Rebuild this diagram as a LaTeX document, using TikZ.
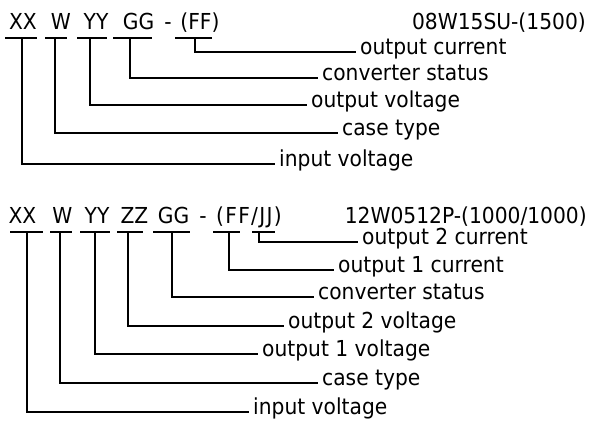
\documentclass[tikz,border=0pt]{standalone}
\usepackage{fontspec}
\setmainfont{DejaVu Sans}[FakeStretch=0.92]
\newfontfamily\widecode{DejaVu Sans}[FakeStretch=0.92,LetterSpace=6]
\begin{document}
\begin{tikzpicture}[x=1pt,y=-1pt,
  rule/.style={line width=1.8pt,black},
  code/.style={anchor=base,inner sep=0pt,font=\fontsize{22}{26}\selectfont},
  lab/.style={anchor=mid west,inner xsep=4pt,inner ysep=0pt,font=\fontsize{22}{26}\selectfont},
  title/.style={anchor=base east,inner sep=0pt,font=\fontsize{22}{26}\selectfont}]
\useasboundingbox[fill=white] (0,0) rectangle (590,423);

% ---------- top ----------
\node[code] (aXX) at (23,30) {XX};
\node[code] (aW) at (61,30) {W};
\node[code] (aYY) at (96,30) {YY};
\node[code] (aGG) at (138.5,30) {GG};
\node[code] (aDash) at (168,30) {-};
\node[code] (aFF) at (200,30) {(FF)};
\node[title] (aEx) at (586,30) {08W15SU-(1500)};

\draw[rule] (5,38) -- (37,38);
\draw[rule] (45,38) -- (67,38);
\draw[rule] (77,38) -- (107,38);
\draw[rule] (113,38) -- (152,38);
\draw[rule] (175,38) -- (212,38);

\coordinate (uaXX) at (22,38);
\coordinate (uaW) at (55,38);
\coordinate (uaYY) at (90,38);
\coordinate (uaGG) at (130,38);
\coordinate (uaFF) at (195,38);

\node[lab] (laFF) at (356,52) {output current};
\node[lab] (laGG) at (318,78) {converter status};
\node[lab] (laYY) at (307,105) {output voltage};
\node[lab] (laW) at (338,133) {case type};
\node[lab] (laXX) at (275,164) {input voltage};

\draw[rule] (uaFF) |- (laFF.mid west);
\draw[rule] (uaGG) |- (laGG.mid west);
\draw[rule] (uaYY) |- (laYY.mid west);
\draw[rule] (uaW) |- (laW.mid west);
\draw[rule] (uaXX) |- (laXX.mid west);

% ---------- bottom ----------
\node[code] (bXX) at (22.5,223) {XX};
\node[code] (bW) at (62.5,223) {W};
\node[code] (bYY) at (97,223) {YY};
\node[code] (bZZ) at (134.5,223) {ZZ};
\node[code] (bGG) at (173.5,223) {GG};
\node[code] (bDash) at (203,223) {-};
\node[code,font=\fontsize{22}{26}\widecode] (bFF) at (249,223) {(FF/JJ)};
\node[title] (bEx) at (587,223) {12W0512P-(1000/1000)};

\draw[rule] (10,232) -- (43,232);
\draw[rule] (50,232) -- (72,232);
\draw[rule] (80,232) -- (110,232);
\draw[rule] (117,232) -- (143,232);
\draw[rule] (153,232) -- (190,232);
\draw[rule] (213,232) -- (240,232);
\draw[rule] (252,232) -- (275,232);

\coordinate (ubXX) at (27,232);
\coordinate (ubW) at (60,232);
\coordinate (ubYY) at (95,232);
\coordinate (ubZZ) at (128,232);
\coordinate (ubGG) at (172,232);
\coordinate (ubFF) at (229,232);
\coordinate (ubJJ) at (259,232);

\node[lab] (lbJJ) at (358,242) {output 2 current};
\node[lab] (lbFF) at (334,270) {output 1 current};
\node[lab] (lbGG) at (314,297) {converter status};
\node[lab] (lbZZ) at (284,326) {output 2 voltage};
\node[lab] (lbYY) at (258,354) {output 1 voltage};
\node[lab] (lbW) at (318,383) {case type};
\node[lab] (lbXX) at (249,412) {input voltage};

\draw[rule] (ubJJ) |- (lbJJ.mid west);
\draw[rule] (ubFF) |- (lbFF.mid west);
\draw[rule] (ubGG) |- (lbGG.mid west);
\draw[rule] (ubZZ) |- (lbZZ.mid west);
\draw[rule] (ubYY) |- (lbYY.mid west);
\draw[rule] (ubW) |- (lbW.mid west);
\draw[rule] (ubXX) |- (lbXX.mid west);
\end{tikzpicture}
\end{document}
